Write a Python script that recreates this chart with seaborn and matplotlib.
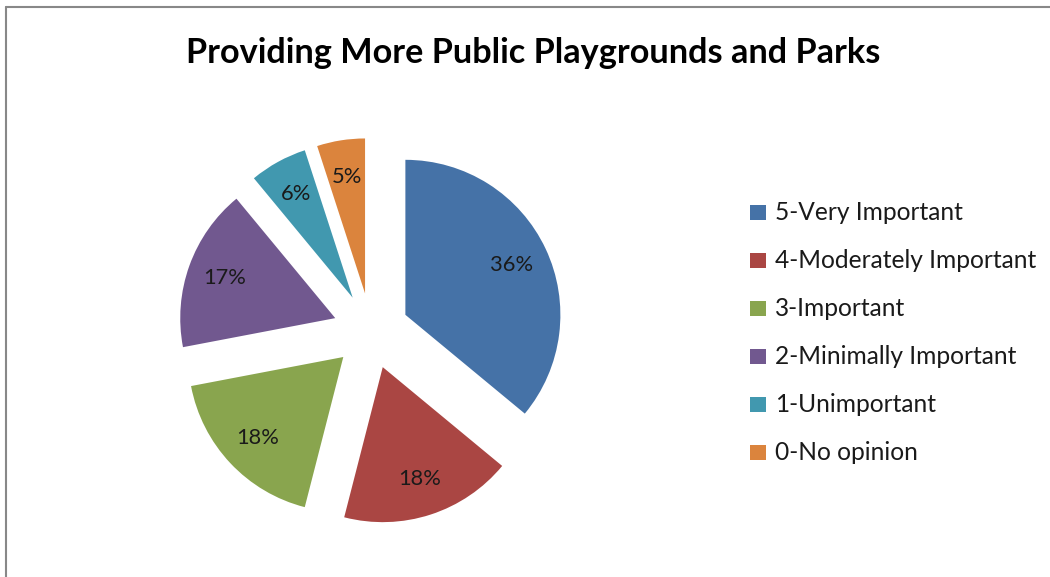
import matplotlib
matplotlib.use("Agg")
import matplotlib.pyplot as plt
import seaborn as sns
from matplotlib.lines import Line2D

categories = ["5-Very Important", "4-Moderately Important", "3-Important",
              "2-Minimally Important", "1-Unimportant", "0-No opinion"]
values = [36, 18, 18, 17, 6, 5]
title = "Providing More Public Playgrounds and Parks"
colors = ["#4572A7", "#AA4643", "#89A54E", "#71588F", "#4198AF", "#DB843D"]

sns.set_theme(style="white")
plt.rcParams["font.family"] = ["Lato", "DejaVu Sans"]

W, H = 1050, 577
fig = plt.figure(figsize=(W / 100, H / 100), dpi=100)
fig.patch.set_facecolor("white")
ax = fig.add_axes([0, 0, 1, 1])

cx, cy, r, ex = 371, H - 331, 155, 38
wedges, texts, autotexts = ax.pie(
    values, colors=sns.color_palette(colors), startangle=90, counterclock=False,
    center=(cx, cy), radius=r, explode=[ex] * len(values),
    autopct="%1.0f%%", pctdistance=0.76,
    wedgeprops=dict(linewidth=0), textprops=dict(color="#1a1a1a", fontsize=15))
ax.set_xlim(0, W)
ax.set_ylim(0, H)
ax.set_aspect("equal")
ax.axis("off")

t = fig.text(533 / W, 1 - 53 / H, title, ha="center", va="center",
             fontsize=22, fontweight="bold", color="black")

leg = ax.legend(wedges, categories, loc="center left",
                bbox_to_anchor=(750 / W, 1 - 332 / H), frameon=False,
                fontsize=15, handlelength=0.75, handleheight=0.75,
                handletextpad=0.45, labelspacing=1.2, borderpad=0, borderaxespad=0)
for txt in leg.get_texts():
    txt.set_color("#1a1a1a")

# fit text sizes to reference widths
fig.canvas.draw()
rend = fig.canvas.get_renderer()
def fit(textobj, target):
    w = textobj.get_window_extent(rend).width
    textobj.set_fontsize(textobj.get_fontsize() * target / w)
fit(t, 693)
fit(autotexts[0], 43)
for a in autotexts[1:]:
    a.set_fontsize(autotexts[0].get_fontsize())
w = leg.get_texts()[1].get_window_extent(rend).width
lf = 15 * 262 / w
for txt in leg.get_texts():
    txt.set_fontsize(lf)

# chart border (top and left visible)
fig.add_artist(Line2D([6 / W, 1], [1 - 7 / H, 1 - 7 / H], color="#888888", lw=1.5))
fig.add_artist(Line2D([6 / W, 6 / W], [0, 1 - 7 / H], color="#888888", lw=1.5))

fig.savefig("out.png", dpi=100)
